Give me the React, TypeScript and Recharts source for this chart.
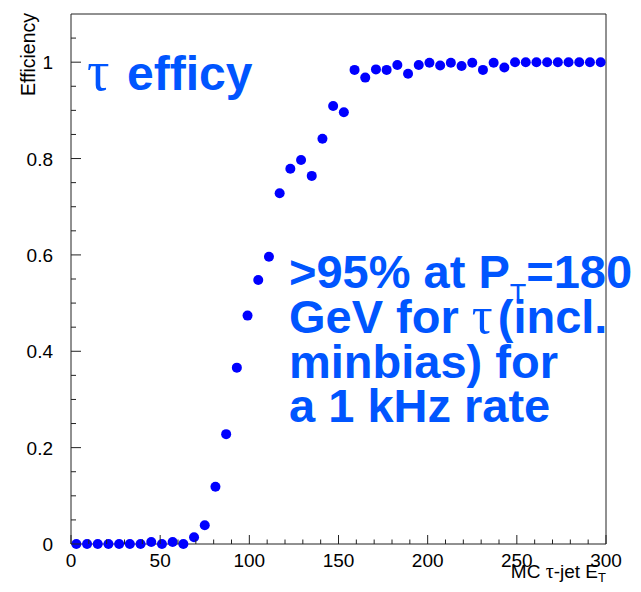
import { ScatterChart, Scatter, XAxis, YAxis, ReferenceLine } from 'recharts';

// bin centres of the MC tau-jet E_T histogram (6 GeV bins)
const binCenters = [
  3, 9, 15, 21, 27, 33, 39, 45, 51, 57,
  63, 69, 75, 81, 87, 93, 99, 105, 111, 117,
  123, 129, 135, 141, 147, 153, 159, 165, 171, 177,
  183, 189, 195, 201, 207, 213, 219, 225, 231, 237,
  243, 249, 255, 261, 267, 273, 279, 285, 291, 297,
];

const efficiency = [
  0, 0, 0, 0, 0, 0, 0, 0.004, 0, 0.004,
  0, 0.014, 0.039, 0.119, 0.228, 0.366, 0.474, 0.548, 0.596, 0.728,
  0.779, 0.797, 0.764, 0.841, 0.909, 0.896, 0.984, 0.968, 0.985, 0.984,
  0.994, 0.976, 0.994, 0.999, 0.993, 0.999, 0.992, 0.999, 0.984, 0.999,
  0.989, 1, 1, 1, 1, 1, 1, 1, 1, 1,
];

const xMajorTicks = [0, 50, 100, 150, 200, 250, 300];
const xTicks = [
  0, 10, 20, 30, 40, 50, 60, 70, 80, 90, 100, 110, 120, 130, 140, 150,
  160, 170, 180, 190, 200, 210, 220, 230, 240, 250, 260, 270, 280, 290, 300,
];
const yMajorTicks = [0, 0.2, 0.4, 0.6, 0.8, 1];
const yTicks = [
  0, 0.05, 0.1, 0.15, 0.2, 0.25, 0.3, 0.35, 0.4, 0.45, 0.5,
  0.55, 0.6, 0.65, 0.7, 0.75, 0.8, 0.85, 0.9, 0.95, 1, 1.05,
];

const points = binCenters.map((x, i) => ({ et: x, eff: efficiency[i] }));

const font = '"Liberation Sans", Arial, Helvetica, sans-serif';
const greek = '"Liberation Serif", "DejaVu Serif", serif';
const axisColor = '#222';
const textBlue = '#0055ff';
const markerBlue = '#0000ff';

function XTick(props: any) {
  const { x, y, payload } = props;
  const major = xMajorTicks.includes(payload.value);
  return (
    <g>
      <line x1={x} x2={x} y1={y} y2={y - (major ? 9 : 4.5)} stroke={axisColor} />
      {major && (
        <text x={x} y={y + 23} textAnchor="middle" fontSize={19} fontFamily={font} fill="#000">
          {payload.value}
        </text>
      )}
    </g>
  );
}

function YTick(props: any) {
  const { x, y, payload } = props;
  const major = yMajorTicks.find((v) => Math.abs(v - payload.value) < 1e-6);
  return (
    <g>
      <line x1={x} x2={x + (major !== undefined ? 10 : 5)} y1={y} y2={y} stroke={axisColor} />
      {major !== undefined && (
        <text x={x - 18} y={y + 7} textAnchor="end" fontSize={19} fontFamily={font} fill="#000">
          {String(major)}
        </text>
      )}
    </g>
  );
}

function Dot(props: any) {
  return <circle cx={props.cx} cy={props.cy} r={5} fill={markerBlue} />;
}

export default function App() {
  return (
    <ScatterChart
      width={633}
      height={576}
      margin={{ top: 6, right: 35, bottom: 10, left: 0 }}
      style={{ fontFamily: font }}
    >
      <XAxis
        type="number"
        dataKey="et"
        domain={[0, 300]}
        ticks={xTicks}
        interval={0}
        height={30}
        tickSize={0}
        tickMargin={0}
        tickLine={false}
        axisLine={{ stroke: axisColor }}
        tick={<XTick />}
      />
      <YAxis
        type="number"
        dataKey="eff"
        domain={[0, 1.1]}
        ticks={yTicks}
        interval={0}
        width={63}
        tickSize={0}
        tickMargin={0}
        tickLine={false}
        axisLine={{ stroke: axisColor }}
        tick={<YTick />}
      />
      <ReferenceLine y={1.1} stroke={axisColor} />
      <ReferenceLine x={300} stroke={axisColor} />
      <Scatter data={points} shape={<Dot />} isAnimationActive={false} />

      <text x={598} y={570} textAnchor="end" fontSize={19} fontFamily={font} fill="#000">
        {'MC '}
        <tspan fontFamily={greek} fontSize={20}>τ</tspan>
        {'-jet E'}
        <tspan fontSize={13} dy={4}>T</tspan>
      </text>
      <text
        transform="translate(27, 5) rotate(-90)"
        textAnchor="end"
        fontSize={19.5}
        fontFamily={font}
        fill="#000"
      >
        Efficiency
      </text>

      <text x={79} y={82} fontSize={56} fontFamily={greek} fill={textBlue}>τ</text>
      <text x={119} y={82} fontSize={48} fontWeight="bold" fontFamily={font} fill={textBlue}>
        efficy
      </text>

      <g fontSize={47} fontWeight="bold" fontFamily={font} fill={textBlue}>
        <text x={281} y={280}>
          {'>95% at P'}
          <tspan fontSize={27} fontWeight="normal" dy={15}>T</tspan>
          <tspan dy={-15}>=180</tspan>
        </text>
        <text x={281} y={325}>
          {'GeV for '}
          <tspan fontWeight="normal" fontFamily={greek} fontSize={52}>τ</tspan>
          <tspan dx={5}>(incl.</tspan>
        </text>
        <text x={281} y={370}>minbias) for</text>
        <text x={281} y={414}>a 1 kHz rate</text>
      </g>
    </ScatterChart>
  );
}
